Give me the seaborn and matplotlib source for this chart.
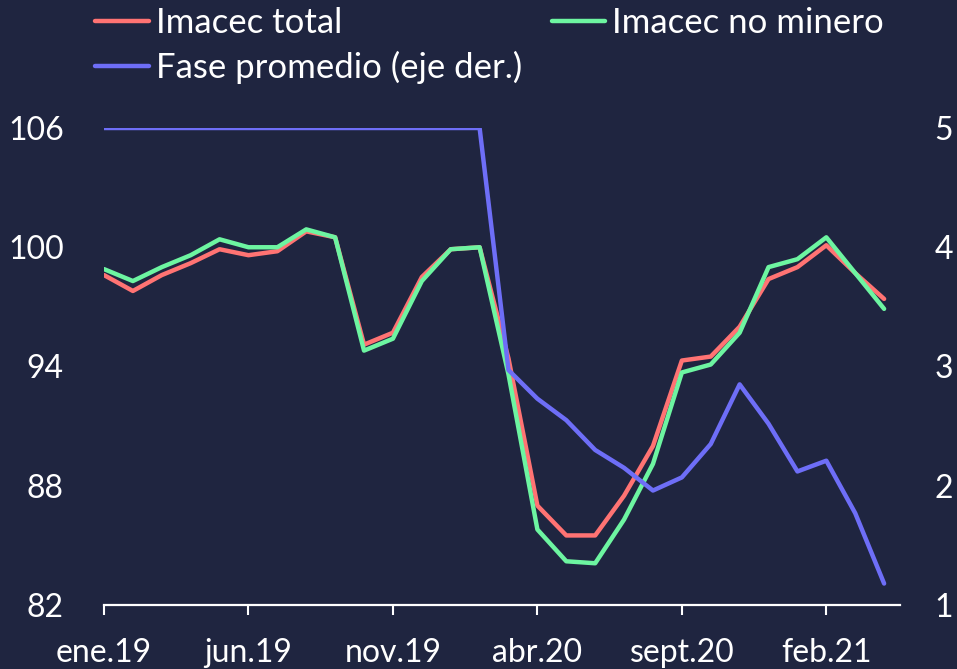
import matplotlib
matplotlib.use("Agg")
import matplotlib.pyplot as plt
import seaborn as sns
import pandas as pd

# datos
meses = ["ene.19", "feb.19", "mar.19", "abr.19", "may.19", "jun.19", "jul.19", "ago.19",
         "sept.19", "oct.19", "nov.19", "dic.19", "ene.20", "feb.20", "mar.20", "abr.20",
         "may.20", "jun.20", "jul.20", "ago.20", "sept.20", "oct.20", "nov.20", "dic.20",
         "ene.21", "feb.21", "mar.21", "abr.21"]
imacec_total = [98.6, 97.8, 98.6, 99.2, 99.9, 99.6, 99.8, 100.8, 100.5, 95.1, 95.7, 98.5,
                99.9, 100.0, 94.4, 87.0, 85.5, 85.5, 87.5, 90.0, 94.3, 94.5, 96.0, 98.4,
                99.0, 100.1, 98.7, 97.4]
imacec_no_minero = [98.9, 98.3, 99.0, 99.6, 100.4, 100.0, 100.0, 100.9, 100.5, 94.8, 95.4, 98.3,
                    99.9, 100.0, 93.6, 85.8, 84.2, 84.1, 86.3, 89.1, 93.7, 94.1, 95.7, 99.0,
                    99.4, 100.5, 98.7, 96.9]
fase_promedio = [5, 5, 5, 5, 5, 5, 5, 5, 5, 5, 5, 5, 5, 5, 2.97, 2.73, 2.55, 2.30, 2.15, 1.96,
                 2.07, 2.35, 2.85, 2.52, 2.12, 2.21, 1.77, 1.18]
ticks_x = [0, 5, 10, 15, 20, 25]

fondo = "#1f2540"
rojo = "#ff7373"
verde = "#6df5a1"
azul = "#6e6ef7"

sns.set_theme(style="dark")
plt.rcParams["font.family"] = ["Lato", "DejaVu Sans"]

df = pd.DataFrame({"i": range(len(meses)), "total": imacec_total,
                   "nomin": imacec_no_minero, "fase": fase_promedio})

fig = plt.figure(figsize=(9.57, 6.69), dpi=100, facecolor=fondo)
ax = fig.add_axes([104 / 957, 1 - 605 / 669, (900 - 104) / 957, (605 - 128) / 669])
ax.set_facecolor(fondo)
ax2 = ax.twinx()

sns.lineplot(data=df, x="i", y="total", ax=ax, color=rojo, linewidth=3.2, label="Imacec total", legend=False)
sns.lineplot(data=df, x="i", y="nomin", ax=ax, color=verde, linewidth=3.2, label="Imacec no minero", legend=False)
sns.lineplot(data=df, x="i", y="fase", ax=ax2, color=azul, linewidth=3.2, label="Fase promedio (eje der.)", legend=False)

ax.set_xlim(0, 27.55)
ax.set_ylim(82, 106)
ax2.set_ylim(1, 5)
ax.set_yticks([82, 88, 94, 100, 106])
ax2.set_yticks([1, 2, 3, 4, 5])
ax.set_xticks(ticks_x)
ax.set_xticklabels([meses[i] for i in ticks_x])
ax.set_xlabel("")
ax.set_ylabel("")
ax2.set_ylabel("")
ax.grid(False)
ax2.grid(False)

for a in (ax, ax2):
    for s in a.spines.values():
        s.set_visible(False)
ax.spines["bottom"].set_visible(True)
ax.spines["bottom"].set_color("white")
ax.spines["bottom"].set_linewidth(1.6)

ax.tick_params(axis="x", colors="white", labelsize=23, length=7.5, width=1.5, direction="out", pad=16, bottom=True)
ax.tick_params(axis="y", colors="white", labelsize=23, length=0, pad=29)
ax2.tick_params(axis="y", colors="white", labelsize=23, length=0, pad=25)

h1, l1 = ax.get_legend_handles_labels()
h2, l2 = ax2.get_legend_handles_labels()
handles = [h1[0], h2[0], h1[1]]
labels = [l1[0], l2[0], l1[1]]
leg = fig.legend(handles, labels, loc="upper left", bbox_to_anchor=(95 / 957, 1.0 - 7 / 669), ncol=2,
                 frameon=False, fontsize=25, handlelength=1.55, handletextpad=0.2,
                 columnspacing=0.85, labelspacing=0.35, borderpad=0.0, borderaxespad=0.0)
for t in leg.get_texts():
    t.set_color("white")

fig.savefig("out.png", dpi=100, facecolor=fondo)
